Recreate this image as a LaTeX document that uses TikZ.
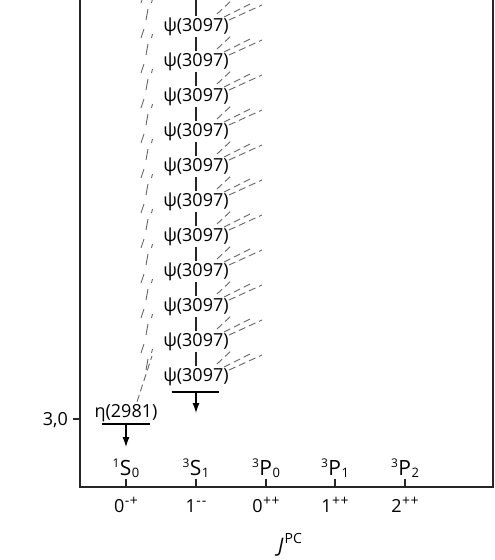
\documentclass[tikz,border=0pt]{standalone}
\usepackage{fontspec}
\setmainfont{Open Sans}
\usetikzlibrary{arrows.meta}
\newcommand{\mysup}[3]{\raisebox{#1}{\fontsize{#2}{#2}\selectfont #3}}
\newcommand{\mysub}[2]{\raisebox{#1}{\fontsize{13}{13}\selectfont #2}}
\newcommand{\stlab}[3]{\mysup{7.5pt}{12}{#1}\kern0.5pt#2\kern0.5pt\mysub{-2.5pt}{#3}}
\newcommand{\jlab}[2]{#1\kern0.5pt\mysup{6.5pt}{14}{#2}}
\begin{document}
\begin{tikzpicture}[x=1pt,y=-1pt,
  axis/.style={line width=1.6pt, draw=black!85},
  vline/.style={line width=1.6pt, draw=black!85},
  lvl/.style={line width=2.6pt, draw=black},
  decay/.style={line width=1.1pt, draw=black, -{Latex[length=10pt,width=7pt]}},
  dsh/.style={line width=0.9pt, draw=black!60},
  fan/.style={line width=0.9pt, draw=black!60, dash pattern=on 7pt off 4pt},
  lab/.style={font=\fontsize{18}{21}\selectfont, inner sep=0pt, anchor=base},
  stfont/.style={font=\fontsize{21}{24}\selectfont, inner sep=0pt, anchor=base},
  psilab/.style={font=\fontsize{18}{21}\selectfont, inner sep=3pt, text height=12pt, text depth=3pt, anchor=base}
]
\useasboundingbox (0,0) rectangle (495,560);
\clip (0,0) rectangle (495,560);
% axes
\coordinate (tl) at (80,0);
\coordinate (bl) at (80,487);
\coordinate (br) at (493,487);
\coordinate (tr) at (493,0);
\draw[axis] (tl) -- (bl) -- (br) -- (tr);
% y tick
\coordinate (ytick) at (73,419);
\coordinate (yaxis) at (80,419);
\draw[axis] (ytick) -- (yaxis);
\node[lab, anchor=base east] (yval) at (68,425) {3,0};
% x ticks and labels
\foreach \name/\x/\m/\s/\n/\jv/\jpc in {a/126/1/S/0/0/{-\kern0.5pt+}, b/196/3/S/1/1/{-\kern1pt-}, c/266/3/P/0/0/{+\kern0.3pt+}, d/335/3/P/1/1/{+\kern0.3pt+}, e/405/3/P/2/2/{+\kern0.3pt+}}{
  \coordinate (tb\name) at (\x,487);
  \coordinate (tt\name) at (\x,479);
  \draw[axis] (tb\name) -- (tt\name);
  \node[stfont] (st\name) at (\x,475) {\stlab{\m}{\s}{\n}};
  \node[lab] (jp\name) at (\x,512) {\jlab{\jv}{\jpc}};
}
\node[stfont, font=\fontsize{20}{24}\selectfont] (jpc) at (290,552) {\textit{J}\kern1pt\raisebox{9pt}{\fontsize{14}{14}\selectfont PC}};
% psi labels
\foreach \k in {0,...,10}{
  \node[psilab] (psi\k) at (196,{31+35*\k}) {ψ(3097)};
}
\coordinate (vtop) at (196,0);
\draw[vline] (vtop) -- (psi0.north);
\foreach \k in {1,...,10}{
  \pgfmathtruncatemacro{\p}{\k-1}
  \draw[vline] (psi\p.south) -- (psi\k.north);
}
% left dash fragments and right fans
\foreach \k in {0,...,10}{
  \pgfmathsetmacro{\yc}{25+35*\k}
  \draw[dsh] (141,\yc-22) -- (144,\yc-31);
  \draw[dsh] (146,\yc-5) -- (148,\yc-16);
  \draw[dsh] (151.5,\yc-22) -- (152.5,\yc-26);
  \draw[fan] (217,\yc-11) -- (232,\yc-25);
  \draw[fan] (224,\yc-8) -- (252,\yc-22);
  \draw[fan] (229,\yc-5) -- (262,\yc-20);
}
% psi level
\coordinate (psibl) at (172,392);
\coordinate (psibr) at (219,392);
\coordinate (psib) at (196,392);
\coordinate (psie) at (196,413);
\draw[lvl] (psibl) -- (psibr);
\draw[decay] (psib) -- (psie);
% eta level
\node[lab] (eta) at (126,417) {η(2981)};
\coordinate (etabl) at (102,424);
\coordinate (etabr) at (150,424);
\coordinate (etab) at (126,424);
\coordinate (etae) at (126,447);
\draw[lvl] (etabl) -- (etabr);
\draw[decay] (etab) -- (etae);
\coordinate (etad) at (152,356);
\draw[fan] ([xshift=11pt,yshift=2pt]eta.north) -- (etad);
\end{tikzpicture}
\end{document}
